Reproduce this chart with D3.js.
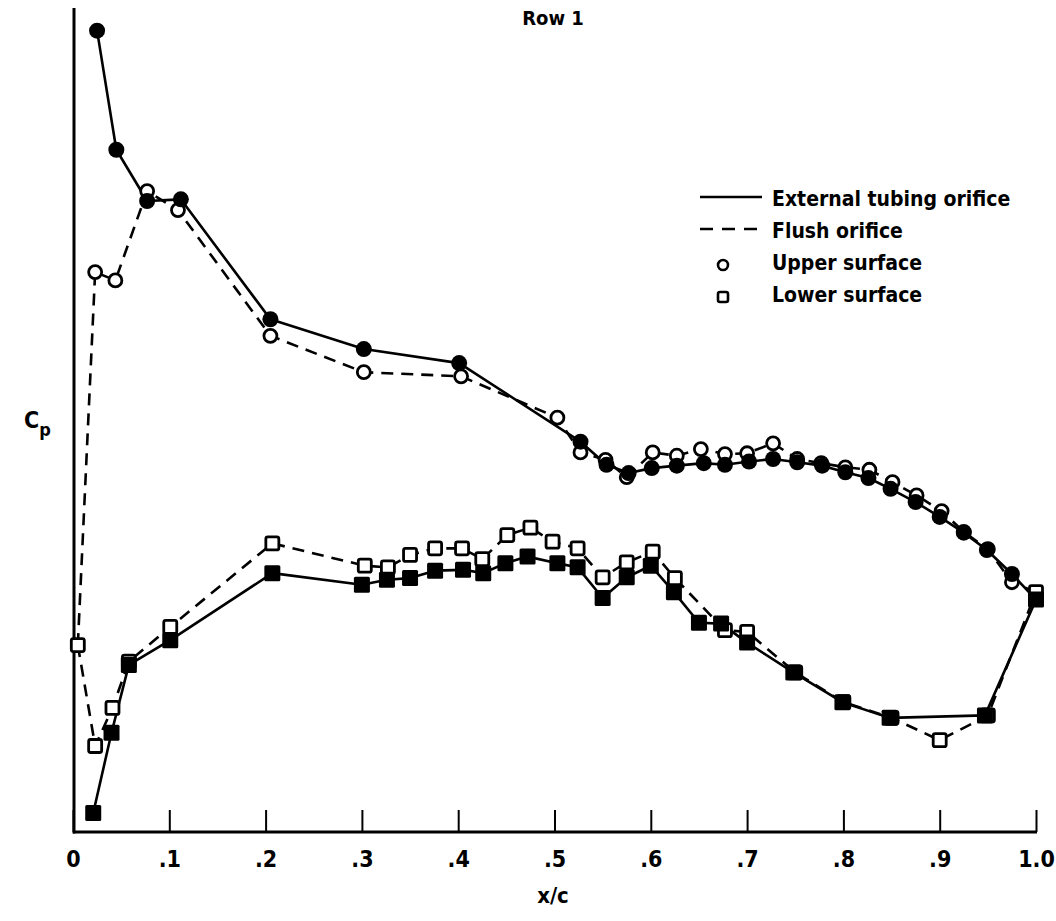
<!DOCTYPE html>
<html>
<head>
<meta charset="utf-8">
<script src="https://cdn.jsdelivr.net/npm/d3@7"></script>
<style>
  html, body { margin: 0; padding: 0; background: #fff; }
  svg { display: block; }
  text { font-family: "DejaVu Sans Condensed", "DejaVu Sans", sans-serif; fill: #000; font-weight: bold; }
</style>
</head>
<body>
<svg id="chart" width="1056" height="921"></svg>
<script>
// Pressure distribution along the chord, Row 1 orifices.
// Each series is a list of [x/c, relative Cp level].

// Stagnation and trailing-edge points shared by both surfaces
const leadingEdgeFlush = [0.005, 22.6];
const trailingEdgeFlush = [1.0, 29.0];
const trailingEdgeExt = [1.0, 28.1];

// Upper surface, external tubing orifice (filled circles, solid)
const upperExternal = [
  [0.025, 96.9], [0.045, 82.5], [0.077, 76.3], [0.112, 76.5], [0.205, 62.0],
  [0.302, 58.4], [0.401, 56.7], [0.527, 47.2], [0.554, 44.4], [0.577, 43.4],
  [0.601, 44.0], [0.627, 44.3], [0.655, 44.6], [0.677, 44.4], [0.702, 44.8],
  [0.727, 45.1], [0.752, 44.7], [0.778, 44.3], [0.802, 43.5], [0.826, 42.8],
  [0.849, 41.5], [0.875, 39.9], [0.900, 38.1], [0.925, 36.2], [0.949, 34.1],
  [0.975, 31.2]
];

// Upper surface, flush orifice (open circles, dashed)
const upperFlush = [
  [0.023, 67.7], [0.044, 66.7], [0.077, 77.5], [0.109, 75.2], [0.205, 60.0],
  [0.302, 55.6], [0.403, 55.1], [0.503, 50.1], [0.527, 45.9], [0.553, 45.0],
  [0.575, 42.9], [0.602, 45.9], [0.627, 45.5], [0.652, 46.3], [0.677, 45.7],
  [0.700, 45.8], [0.727, 47.0], [0.752, 45.1], [0.777, 44.6], [0.802, 44.1],
  [0.827, 43.8], [0.851, 42.3], [0.876, 40.7], [0.902, 38.8], [0.925, 36.3],
  [0.950, 34.2], [0.975, 30.2]
];

// Lower surface, external tubing orifice (filled squares, solid)
const lowerExternal = [
  [0.021, 2.3], [0.040, 12.0], [0.058, 20.2], [0.101, 23.2], [0.207, 31.3],
  [0.300, 29.9], [0.326, 30.5], [0.350, 30.7], [0.376, 31.6], [0.405, 31.7],
  [0.426, 31.3], [0.449, 32.5], [0.472, 33.3], [0.503, 32.5], [0.524, 32.0],
  [0.550, 28.3], [0.575, 30.8], [0.600, 32.2], [0.624, 29.0], [0.650, 25.3],
  [0.673, 25.2], [0.700, 22.9], [0.748, 19.3], [0.799, 15.7], [0.848, 13.8],
  [0.947, 14.1]
];

// Lower surface, flush orifice (open squares, dashed)
const lowerFlush = [
  [0.023, 10.4], [0.041, 15.0], [0.058, 20.6], [0.101, 24.8], [0.207, 34.9],
  [0.303, 32.2], [0.327, 32.0], [0.350, 33.5], [0.376, 34.3], [0.404, 34.3],
  [0.425, 33.0], [0.451, 35.9], [0.475, 36.8], [0.498, 35.1], [0.524, 34.3],
  [0.550, 30.8], [0.575, 32.6], [0.602, 33.9], [0.625, 30.7], [0.677, 24.4],
  [0.700, 24.2], [0.750, 19.3], [0.800, 15.7], [0.850, 13.8], [0.900, 11.1],
  [0.950, 14.1]
];

const xTicks = [0, 0.1, 0.2, 0.3, 0.4, 0.5, 0.6, 0.7, 0.8, 0.9, 1.0];
const xTickLabels = ["0", ".1", ".2", ".3", ".4", ".5", ".6", ".7", ".8", ".9", "1.0"];

const legendItems = [
  { kind: "solid", label: "External tubing orifice" },
  { kind: "dashed", label: "Flush orifice" },
  { kind: "circle", label: "Upper surface" },
  { kind: "square", label: "Lower surface" }
];

const svg = d3.select("#chart");
const plot = { left: 74, right: 1036, top: 8, bottom: 832 };

const x = d3.scaleLinear().domain([0, 1]).range([plot.left - 1, plot.right]);
const y = d3.scaleLinear().domain([0, 100]).range([plot.bottom, plot.bottom - 827]);

// Axes: only the left and bottom frame, ticks pointing inward
const xAxis = d3.axisBottom(x)
  .tickValues(xTicks)
  .tickSizeInner(-22)
  .tickSizeOuter(0)
  .tickFormat((d, i) => xTickLabels[i]);

const gx = svg.append("g")
  .attr("transform", `translate(0,${plot.bottom})`)
  .call(xAxis);
gx.select(".domain").remove();
gx.selectAll(".tick line").attr("stroke", "#000").attr("stroke-width", 2);
gx.selectAll(".tick text")
  .style("font-size", "23px")
  .style("font-family", "'DejaVu Sans Condensed', sans-serif")
  .style("font-weight", "bold")
  .attr("dy", "0")
  .attr("y", 35);

svg.append("line")
  .attr("x1", plot.left - 1).attr("x2", plot.right + 1)
  .attr("y1", plot.bottom).attr("y2", plot.bottom)
  .attr("stroke", "#000").attr("stroke-width", 3);
svg.append("line")
  .attr("x1", plot.left).attr("x2", plot.left)
  .attr("y1", plot.top).attr("y2", plot.bottom + 1.5)
  .attr("stroke", "#000").attr("stroke-width", 3);

// Curves
const line = d3.line().x(d => x(d[0])).y(d => y(d[1]));

const curves = [
  { data: [...upperExternal, trailingEdgeExt], dash: null },
  { data: [...lowerExternal, trailingEdgeExt], dash: null },
  { data: [leadingEdgeFlush, ...upperFlush, trailingEdgeFlush], dash: "12,8" },
  { data: [leadingEdgeFlush, ...lowerFlush, trailingEdgeFlush], dash: "12,8" }
];

svg.append("g").selectAll("path")
  .data(curves)
  .join("path")
  .attr("d", d => line(d.data))
  .attr("fill", "none")
  .attr("stroke", "#000")
  .attr("stroke-width", 2.6)
  .attr("stroke-linejoin", "round")
  .attr("stroke-dasharray", d => d.dash);

// Markers
const markers = svg.append("g");

markers.selectAll(".uf")
  .data(upperFlush)
  .join("circle")
  .attr("class", "uf")
  .attr("cx", d => x(d[0])).attr("cy", d => y(d[1]))
  .attr("r", 6.5)
  .attr("fill", "#fff").attr("stroke", "#000").attr("stroke-width", 2.8);

markers.selectAll(".lf")
  .data([leadingEdgeFlush, ...lowerFlush, trailingEdgeFlush])
  .join("rect")
  .attr("class", "lf")
  .attr("x", d => x(d[0]) - 6.5).attr("y", d => y(d[1]) - 6.5)
  .attr("width", 13).attr("height", 13)
  .attr("rx", 2)
  .attr("fill", "#fff").attr("stroke", "#000").attr("stroke-width", 2.8);

markers.selectAll(".ue")
  .data(upperExternal)
  .join("circle")
  .attr("class", "ue")
  .attr("cx", d => x(d[0])).attr("cy", d => y(d[1]))
  .attr("r", 8)
  .attr("fill", "#000");

markers.selectAll(".le")
  .data([...lowerExternal, trailingEdgeExt])
  .join("rect")
  .attr("class", "le")
  .attr("x", d => x(d[0]) - 8).attr("y", d => y(d[1]) - 8)
  .attr("width", 16).attr("height", 16)
  .attr("rx", 1.5)
  .attr("fill", "#000");

// Titles
svg.append("text")
  .attr("x", 553).attr("y", 25)
  .attr("text-anchor", "middle")
  .style("font-size", "20px")
  .text("Row 1");

const cp = svg.append("text")
  .attr("x", 24).attr("y", 428)
  .style("font-size", "23px");
cp.append("tspan").text("C");
cp.append("tspan").attr("dy", 8).style("font-size", "18px").text("p");

svg.append("text")
  .attr("x", 553).attr("y", 903)
  .attr("text-anchor", "middle")
  .style("font-size", "22px")
  .text("x/c");

// Legend
const legend = svg.append("g").attr("transform", "translate(700,197)");
const rowGap = 32;
legendItems.forEach((item, i) => {
  const g = legend.append("g").attr("transform", `translate(0,${i * rowGap})`);
  if (item.kind === "solid" || item.kind === "dashed") {
    g.append("line")
      .attr("x1", 0).attr("x2", 62).attr("y1", 0).attr("y2", 0)
      .attr("stroke", "#000").attr("stroke-width", 2.6)
      .attr("stroke-dasharray", item.kind === "dashed" ? "13,9" : null);
  } else if (item.kind === "circle") {
    g.append("circle")
      .attr("cx", 23).attr("cy", 4).attr("r", 5)
      .attr("fill", "#fff").attr("stroke", "#000").attr("stroke-width", 2.6);
  } else {
    g.append("rect")
      .attr("x", 18).attr("y", -1).attr("width", 10).attr("height", 10).attr("rx", 2)
      .attr("fill", "#fff").attr("stroke", "#000").attr("stroke-width", 2.6);
  }
  g.append("text")
    .attr("x", 72).attr("y", 9)
    .style("font-size", "21px")
    .text(item.label);
});
</script>
</body>
</html>
